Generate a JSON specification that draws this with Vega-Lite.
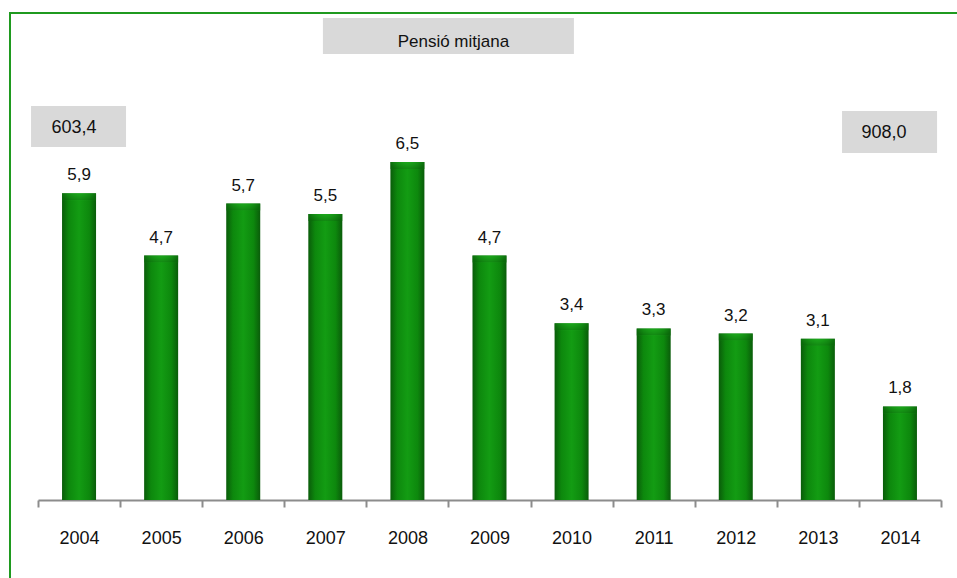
{
  "$schema": "https://vega.github.io/schema/vega-lite/v6.json",
  "width": 950,
  "height": 568,
  "autosize": {"type": "none"},
  "padding": {"left": 10, "top": 13, "right": -3, "bottom": -3},
  "background": "white",
  "config": {
    "view": {"stroke": "#1f9a1f", "strokeWidth": 2},
    "font": "Liberation Sans",
    "locale": {"number": {"decimal": ",", "thousands": ".", "grouping": [3], "currency": ["", " €"]}}
  },
  "data": {
    "values": [
      {"year": "2004", "value": 5.9},
      {"year": "2005", "value": 4.7},
      {"year": "2006", "value": 5.7},
      {"year": "2007", "value": 5.5},
      {"year": "2008", "value": 6.5},
      {"year": "2009", "value": 4.7},
      {"year": "2010", "value": 3.4},
      {"year": "2011", "value": 3.3},
      {"year": "2012", "value": 3.2},
      {"year": "2013", "value": 3.1},
      {"year": "2014", "value": 1.8}
    ]
  },
  "layer": [
    {
      "mark": {
        "type": "bar",
        "width": 34,
        "color": {
          "gradient": "linear",
          "x1": 0, "x2": 1, "y1": 0, "y2": 0,
          "stops": [
            {"offset": 0, "color": "#0a5c0a"},
            {"offset": 0.2, "color": "#0d880d"},
            {"offset": 0.5, "color": "#139c13"},
            {"offset": 0.8, "color": "#0d880d"},
            {"offset": 1, "color": "#0a5c0a"}
          ]
        }
      },
      "encoding": {
        "x": {
          "field": "year",
          "type": "ordinal",
          "scale": {"range": [28, 931], "paddingInner": 0, "paddingOuter": 0},
          "axis": {
            "title": null,
            "orient": "bottom",
            "offset": -81,
            "labelAngle": 0,
            "labelFontSize": 18,
            "labelColor": "#111111",
            "labelPadding": 22,
            "labelFont": "Liberation Sans",
            "domainColor": "#8c8c8c",
            "domainWidth": 2,
            "tickColor": "#8c8c8c",
            "tickWidth": 2,
            "tickSize": 7,
            "tickBand": "extent",
            "grid": false
          }
        },
        "y": {
          "field": "value",
          "type": "quantitative",
          "scale": {"domain": [0, 9.365], "range": [487, 0], "nice": false, "zero": true},
          "axis": null
        }
      }
    },
    {
      "mark": {
        "type": "tick",
        "size": 34,
        "thickness": 7,
        "yOffset": 3.5,
        "color": {
          "gradient": "radial",
          "x1": 0.5, "y1": 0, "r1": 0,
          "x2": 0.5, "y2": 0, "r2": 0.7,
          "stops": [
            {"offset": 0, "color": "#5ad45a"},
            {"offset": 0.6, "color": "#1ea81e"},
            {"offset": 1, "color": "#0b6a0b"}
          ]
        }
      },
      "encoding": {
        "x": {"field": "year", "type": "ordinal"},
        "y": {"field": "value", "type": "quantitative"}
      }
    },
    {
      "mark": {"type": "text", "baseline": "alphabetic", "dy": -13, "fontSize": 17, "color": "#111111"},
      "encoding": {
        "x": {"field": "year", "type": "ordinal"},
        "y": {"field": "value", "type": "quantitative"},
        "text": {"field": "value", "type": "quantitative", "format": ".1f"}
      }
    },
    {
      "data": {"values": [{}]},
      "mark": {"type": "bar", "width": 251, "xOffset": 41, "color": "#d9d9d9"},
      "encoding": {
        "x": {"datum": "2008", "type": "ordinal"},
        "y": {"datum": 9.269, "type": "quantitative"},
        "y2": {"datum": 8.577}
      }
    },
    {
      "data": {"values": [{}]},
      "mark": {"type": "text", "dx": 46, "baseline": "middle", "fontSize": 17, "color": "#111111", "text": "Pensió mitjana"},
      "encoding": {
        "x": {"datum": "2008", "type": "ordinal"},
        "y": {"datum": 8.81, "type": "quantitative"}
      }
    },
    {
      "data": {"values": [{}]},
      "mark": {"type": "bar", "width": 95, "xOffset": -0.5, "color": "#d9d9d9"},
      "encoding": {
        "x": {"datum": "2004", "type": "ordinal"},
        "y": {"datum": 7.577, "type": "quantitative"},
        "y2": {"datum": 6.788}
      }
    },
    {
      "data": {"values": [{}]},
      "mark": {"type": "text", "dx": -5, "baseline": "middle", "fontSize": 18, "color": "#111111", "text": "603,4"},
      "encoding": {
        "x": {"datum": "2004", "type": "ordinal"},
        "y": {"datum": 7.154, "type": "quantitative"}
      }
    },
    {
      "data": {"values": [{}]},
      "mark": {"type": "bar", "width": 95, "xOffset": -10.4, "color": "#d9d9d9"},
      "encoding": {
        "x": {"datum": "2014", "type": "ordinal"},
        "y": {"datum": 7.481, "type": "quantitative"},
        "y2": {"datum": 6.673}
      }
    },
    {
      "data": {"values": [{}]},
      "mark": {"type": "text", "dx": -16, "baseline": "middle", "fontSize": 18, "color": "#111111", "text": "908,0"},
      "encoding": {
        "x": {"datum": "2014", "type": "ordinal"},
        "y": {"datum": 7.058, "type": "quantitative"}
      }
    }
  ]
}
